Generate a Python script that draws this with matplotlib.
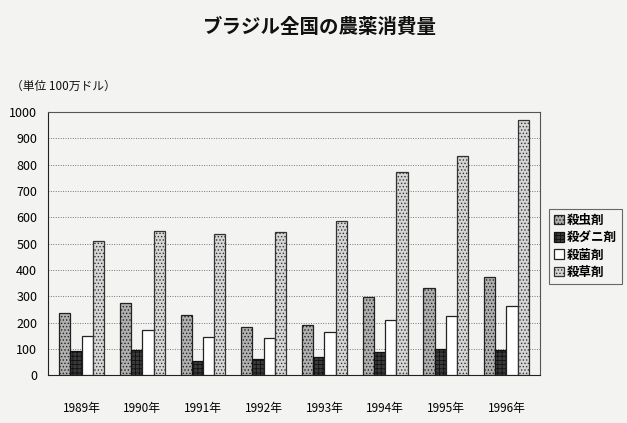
import matplotlib

matplotlib.use("Agg")
import matplotlib.pyplot as plt
import numpy as np

plt.rcParams["font.family"] = ["Noto Sans CJK JP", "DejaVu Sans"]
plt.rcParams["hatch.linewidth"] = 0.6

# ---- data (100万ドル) ----
years = ["1989年", "1990年", "1991年", "1992年", "1993年", "1994年", "1995年", "1996年"]
series = ["殺虫剤", "殺ダニ剤", "殺菌剤", "殺草剤"]
insecticide = [236, 275, 230, 185, 192, 299, 333, 375]
acaricide = [92, 96, 54, 60, 69, 90, 101, 96]
fungicide = [150, 172, 147, 140, 165, 211, 225, 262]
herbicide = [510, 549, 536, 543, 586, 772, 833, 970]
yticks = [0, 100, 200, 300, 400, 500, 600, 700, 800, 900, 1000]

PAPER = "#f3f3f1"
styles = [
    dict(facecolor="#b0b0b0", hatch=".....", edgecolor="#222222"),
    dict(facecolor="#3a3a3a", hatch="++++", edgecolor="#111111"),
    dict(facecolor="white", hatch="", edgecolor="#222222"),
    dict(facecolor="#d6d6d6", hatch=".....", edgecolor="#333333"),
]

fig = plt.figure(figsize=(6.27, 4.23), dpi=100)
fig.patch.set_facecolor(PAPER)
ax = fig.add_axes([0.077, 0.113, 0.784, 0.622])
ax.set_facecolor(PAPER)

x = np.arange(len(years))
w = 0.185
for i, (vals, st) in enumerate(zip([insecticide, acaricide, fungicide, herbicide], styles)):
    ax.bar(x + (i - 1.5) * w, vals, w, label=series[i], linewidth=0.9, zorder=3, **st)

ax.set_xlim(-0.55, len(years) - 0.45)
ax.set_ylim(0, 1000)
ax.set_yticks(yticks)
ax.set_xticks(x)
ax.set_xticklabels(years, fontsize=8.5)
ax.tick_params(axis="x", length=0, pad=19)
ax.tick_params(axis="y", length=0, pad=8, labelsize=9)
ax.yaxis.grid(True, linestyle=(0, (1, 1.5)), color="#777777", linewidth=0.7, zorder=0)
for s in ax.spines.values():
    s.set_color("#555555")
    s.set_linewidth(0.8)
ax.spines["left"].set_color("#222222")
ax.spines["bottom"].set_color("#222222")

fig.text(0.51, 0.935, "ブラジル全国の農薬消費量", ha="center", va="center",
         fontsize=14, fontweight="bold", color="#111111")
fig.text(0.018, 0.795, "（単位 100万ドル）", ha="left", va="center",
         fontsize=8.5, color="#111111")

leg = ax.legend(loc="center left", bbox_to_anchor=(1.005, 0.49), fontsize=9,
                frameon=True, fancybox=False, handlelength=0.8, handleheight=0.8,
                handletextpad=0.3, borderpad=0.4, labelspacing=0.35,
                prop={"weight": "bold", "size": 9})
leg.get_frame().set_edgecolor("#444444")
leg.get_frame().set_facecolor(PAPER)
leg.get_frame().set_linewidth(0.8)

fig.savefig("out.png", dpi=100, facecolor=PAPER)
